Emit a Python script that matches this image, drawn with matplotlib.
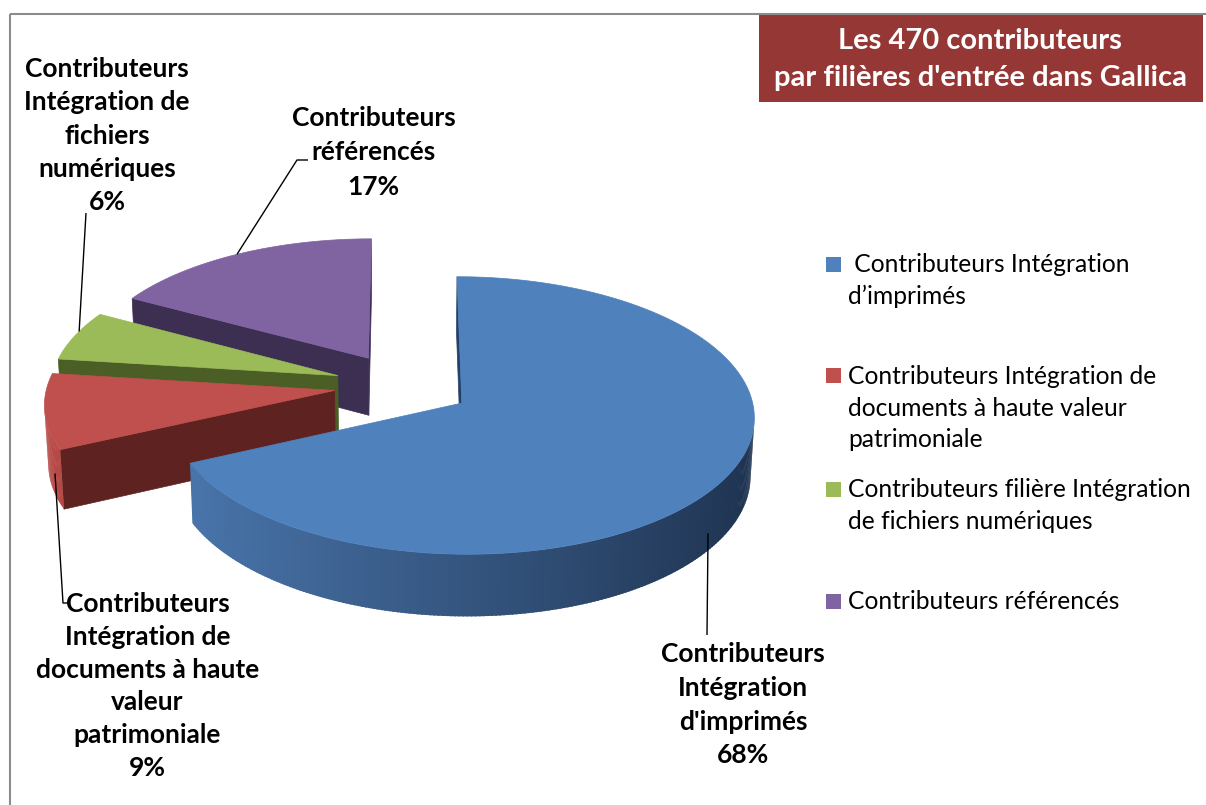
import numpy as np
import matplotlib
matplotlib.use("Agg")
import matplotlib.pyplot as plt
from matplotlib.patches import Polygon, Rectangle

# Contributors to Gallica by entry channel
counts = [320, 42, 28, 80]
legend_labels = [
    " Contributeurs Intégration\nd’imprimés",
    "Contributeurs Intégration de\ndocuments à haute valeur\npatrimoniale",
    "Contributeurs filière Intégration\nde fichiers numériques",
    "Contributeurs référencés",
]
slice_labels = [
    "Contributeurs\nIntégration\nd'imprimés",
    "Contributeurs\nIntégration de\ndocuments à haute\nvaleur\npatrimoniale",
    "Contributeurs\nIntégration de\nfichiers\nnumériques",
    "Contributeurs\nréférencés",
]
title_lines = [f"Les {sum(counts)} contributeurs", "par filières d'entrée dans Gallica"]

# colours: top face, lit side, shaded side, cut face
top_colors = ["#4F81BD", "#C0504D", "#9BBB59", "#8064A2"]
side_light = ["#4B78AF", "#B94B48", "#8AA84E", "#735A93"]
side_dark = ["#1E324F", "#5A1E1C", "#3E4E1E", "#33284A"]
cut_colors = ["#24406A", "#5E2320", "#4B5E25", "#3C2F52"]

FONT = "Lato"
W, H = 1206, 805
fig = plt.figure(figsize=(W / 100, H / 100), dpi=100)
ax = fig.add_axes([0, 0, 1, 1])
ax.set_xlim(0, W)
ax.set_ylim(H, 0)
ax.axis("off")

# perspective camera for the 3-D pie (units of pie radius)
CX0, CY0 = 403.0, 385.5
FOCAL = 2875.0
DIST = 10.0
ELEV = np.deg2rad(27.9)
THICK = 0.23
EXPLODE = 0.24
CAM = np.array([0.0, -DIST * np.cos(ELEV), DIST * np.sin(ELEV)])


def project(X, Y, Z):
    yc = Y * np.sin(ELEV) + Z * np.cos(ELEV)
    zc = DIST + Y * np.cos(ELEV) - Z * np.sin(ELEV)
    return CX0 + FOCAL * X / zc, CY0 - FOCAL * yc / zc


def view_depth(X, Y, Z):
    return DIST + Y * np.cos(ELEV) - Z * np.sin(ELEV)


def mix(c1, c2, w):
    a = np.array(matplotlib.colors.to_rgb(c1))
    b = np.array(matplotlib.colors.to_rgb(c2))
    return tuple(a * (1 - w) + b * w)


total = sum(counts)
spans = []
start = 90.0
for c in counts:
    sweep = 360.0 * c / total
    spans.append((start, start - sweep))
    start -= sweep

slices = []
for i, (t1, t2) in enumerate(spans):
    mid = np.deg2rad((t1 + t2) / 2)
    apex = np.array([EXPLODE * np.cos(mid), EXPLODE * np.sin(mid)])
    slices.append((i, t1, t2, apex))


def rim(apex, t_deg, z=0.0):
    t = np.deg2rad(t_deg)
    return apex[0] + np.cos(t), apex[1] + np.sin(t), z


def facing(normal_deg, px, py):
    n = np.deg2rad(normal_deg)
    return np.cos(n) * (CAM[0] - px) + np.sin(n) * (CAM[1] - py) > 0


STEP = 0.75
# draw the farthest slices first
order = sorted(slices, key=lambda s: -view_depth(s[3][0], s[3][1], 0))
for i, t1, t2, apex in order:
    faces = []
    n = max(int(abs(t1 - t2) / STEP), 4)
    ts = np.linspace(t1, t2, n + 1)
    # curved outer wall, small overlapping strips for a smooth shading
    for k, (ta, tb) in enumerate(zip(ts[:-1], ts[1:])):
        tm = (ta + tb) / 2
        mx, my, _ = rim(apex, tm)
        if not facing(tm, mx, my):
            continue
        tb2 = tb - 0.6 * STEP if k < n - 1 else tb
        pts = [project(*rim(apex, ta)), project(*rim(apex, tb2)),
               project(*rim(apex, tb2, -THICK)), project(*rim(apex, ta, -THICK))]
        w = (1 + np.cos(np.deg2rad(tm))) / 2
        faces.append((view_depth(mx, my, -THICK / 2), pts,
                      mix(side_light[i], side_dark[i], w), k))
    # flat cut walls
    for t_edge, normal in ((t1, t1 + 90), (t2, t2 - 90)):
        ex, ey, _ = rim(apex, t_edge)
        cx, cy = (ex + apex[0]) / 2, (ey + apex[1]) / 2
        if not facing(normal, cx, cy):
            continue
        pts = [project(apex[0], apex[1], 0), project(ex, ey, 0),
               project(ex, ey, -THICK), project(apex[0], apex[1], -THICK)]
        faces.append((view_depth(cx, cy, -THICK / 2), pts, cut_colors[i], -1))
    for _, pts, col, k in sorted(faces, key=lambda f: -f[0]):
        ax.add_patch(Polygon(pts, closed=True, facecolor=col,
                             edgecolor=col if k < 0 else "none",
                             lw=0.5, zorder=2))
    top = [project(apex[0], apex[1], 0)] + [project(*rim(apex, t)) for t in ts]
    ax.add_patch(Polygon(top, closed=True, facecolor=top_colors[i],
                         edgecolor=top_colors[i], lw=0.5, zorder=2))

# data labels with leader lines
label_pos = [(743, 662, 33.8), (147.5, 612, 32.8), (107, 77, 33.3), (373.5, 126, 34.5)]
leader_start = [[(707, 635)], [(68, 603), (63, 603)], [(86, 213)], [(308, 160), (297, 160)]]
leader_anchor = [(-4.5, 0.7), (11, 0.6), (-2, 0.0), (0, 0.0)]
for i, t1, t2, apex in slices:
    pct = round(100 * counts[i] / total)
    lines = slice_labels[i].split("\n") + [f"{pct}%"]
    x0, y0, dy = label_pos[i]
    for k, line in enumerate(lines):
        ax.text(x0, y0 + k * dy, line, ha="center", va="baseline", fontsize=19,
                fontweight="bold", family=FONT, color="black", zorder=4)
    da, zf = leader_anchor[i]
    end = project(*rim(apex, (t1 + t2) / 2 + da, -THICK * zf))
    path = leader_start[i] + [end]
    ax.plot([p[0] for p in path], [p[1] for p in path], color="black", lw=1.0,
            solid_capstyle="butt", zorder=3)

# legend
leg_base = [272, 384, 497, 609]
for i, lab in enumerate(legend_labels):
    b = leg_base[i]
    ax.add_patch(Rectangle((826, b - 15.5), 15, 15, facecolor=top_colors[i],
                           edgecolor="none", zorder=3))
    for k, line in enumerate(lab.split("\n")):
        ax.text(848, b + k * 31.5, line, ha="left", va="baseline", fontsize=17.7,
                family=FONT, color="black", zorder=4)

# title box
ax.add_patch(Rectangle((759, 15), 444, 87, facecolor="#953735", edgecolor="none", zorder=3))
for k, line in enumerate(title_lines):
    ax.text(980, 49 + k * 37, line, ha="center", va="baseline", fontsize=21,
            fontweight="bold", family=FONT, color="white", zorder=4)

# chart frame
ax.plot([10, W], [14, 14], color="#8C8C8C", lw=1.5, zorder=5, solid_capstyle="butt")
ax.plot([10, 10], [14, H], color="#8C8C8C", lw=1.5, zorder=5, solid_capstyle="butt")

fig.savefig("out.png", dpi=100)
